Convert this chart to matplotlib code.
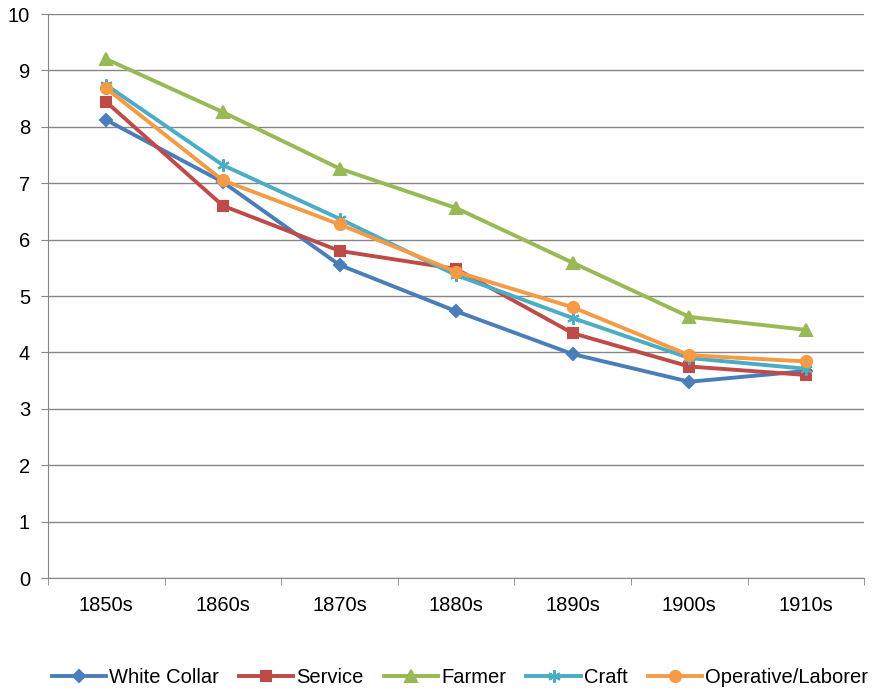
import matplotlib
matplotlib.use("Agg")
import matplotlib.pyplot as plt

plt.rcParams["font.family"] = ["Liberation Sans", "DejaVu Sans"]

decades = ["1850s", "1860s", "1870s", "1880s", "1890s", "1900s", "1910s"]
white_collar = [8.12, 7.02, 5.55, 4.73, 3.97, 3.48, 3.67]
service = [8.44, 6.60, 5.80, 5.48, 4.34, 3.75, 3.60]
farmer = [9.20, 8.26, 7.26, 6.56, 5.59, 4.63, 4.40]
craft = [8.74, 7.32, 6.37, 5.37, 4.61, 3.90, 3.71]
operative = [8.68, 7.05, 6.27, 5.43, 4.80, 3.95, 3.84]

series = [
    ("White Collar", white_collar, "#4A7EBB", "D", 6),
    ("Service", service, "#BE4B48", "s", 7),
    ("Farmer", farmer, "#98B954", "^", 8),
    ("Craft", craft, "#4BACC6", (6, 2, 0), 9),
    ("Operative/Laborer", operative, "#F59A45", "o", 8),
]

fig = plt.figure(figsize=(8.81, 6.90), dpi=100)
ax = fig.add_axes([0.0545, 0.1623, 0.9265, 0.8174])

x = range(len(decades))
for name, vals, color, marker, ms in series:
    ax.plot(x, vals, color=color, lw=2.8, marker=marker, ms=ms,
            markeredgecolor=color, markeredgewidth=1.5, label=name)

ax.set_xlim(-0.5, len(decades) - 0.5)
ax.set_ylim(0, 10)
ax.set_yticks(range(0, 11))
ax.set_xticks(list(x))
ax.set_xticklabels(decades)
ax.set_xticks([i - 0.5 for i in range(len(decades) + 1)], minor=True)
ax.tick_params(axis="x", which="major", length=0, pad=13, labelsize=14.5)
ax.tick_params(axis="x", which="minor", length=5, color="#868686")
ax.tick_params(axis="y", length=5, color="#868686", labelsize=14.5, pad=8)
ax.grid(axis="y", color="#868686", lw=1)
ax.set_axisbelow(True)
for side in ["top", "right"]:
    ax.spines[side].set_visible(False)
for side in ["left", "bottom"]:
    ax.spines[side].set_color("#868686")

fig.legend(loc="lower center", ncol=5, frameon=False, fontsize=14.5,
           bbox_to_anchor=(0.522, -0.022), handlelength=2.7,
           handletextpad=0.15, columnspacing=1.0)

fig.savefig("out.png", dpi=100)
